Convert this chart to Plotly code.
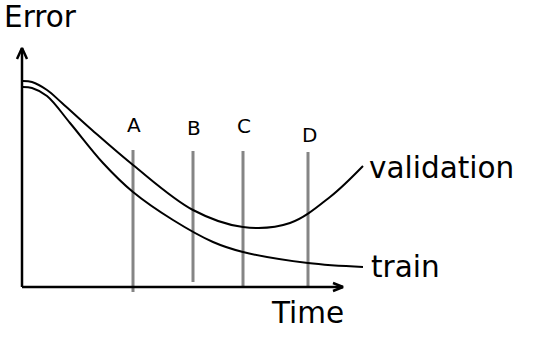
import plotly.graph_objects as go

# Curves (time, error)
val_t = [1, 10, 25, 40, 70, 111, 171, 221, 268, 308, 341]
val_e = [206, 205, 197, 184, 157, 122, 77, 60, 64, 90, 121]
train_t = [1, 10, 25, 48, 81, 111, 151, 191, 221, 286, 341]
train_e = [200, 199, 191, 164, 124, 95, 67, 45, 35, 24, 20]

# Checkpoints
cp_labels = ["A", "B", "C", "D"]
cp_t = [111, 171, 221, 286]
cp_top = [137, 136, 136, 135]
cp_bottom = [-5, 5, -1, -1]
cp_label_base = [155, 152, 154, 145]

FONT = "DejaVu Sans"

fig = go.Figure()

# checkpoint vertical lines
for t, top, bot in zip(cp_t, cp_top, cp_bottom):
    fig.add_trace(go.Scatter(x=[t, t], y=[bot, top], mode="lines",
                             line=dict(color="#858585", width=3), hoverinfo="skip"))

# axes with arrowheads
fig.add_trace(go.Scatter(x=[0, 0, None, -5, 0, 5], y=[0, 239, None, 228, 239, 228],
                         mode="lines", line=dict(color="black", width=2.5), hoverinfo="skip"))
fig.add_trace(go.Scatter(x=[0, 321, None, 311, 321, 311], y=[0, 0, None, 4, 0, -4],
                         mode="lines", line=dict(color="black", width=2.5), hoverinfo="skip"))

# curves
fig.add_trace(go.Scatter(x=val_t, y=val_e, mode="lines", line_shape="spline",
                         line=dict(color="black", width=2), name="validation"))
fig.add_trace(go.Scatter(x=train_t, y=train_e, mode="lines", line_shape="spline",
                         line=dict(color="black", width=2), name="train"))

ann = []
def txt(x, y, s, size, xanchor="center"):
    ann.append(dict(x=x, y=y, text=s, showarrow=False, xanchor=xanchor, yanchor="middle",
                    font=dict(family=FONT, size=size, color="black")))

txt(18, 270, "Error", 29.5)
txt(285.5, -26, "Time", 29.5)
txt(345, 119, "validation", 29.5, "left")
txt(347, 20, "train", 29.5, "left")
for lab, t, b in zip(cp_labels, cp_t, cp_label_base):
    txt(t + 1, b + 7, lab, 20)

fig.update_layout(
    width=558, height=340, margin=dict(l=0, r=0, t=0, b=0),
    paper_bgcolor="white", plot_bgcolor="white", showlegend=False,
    annotations=ann,
    xaxis=dict(range=[-22, 536], visible=False, fixedrange=True),
    yaxis=dict(range=[-53, 287], visible=False, fixedrange=True),
)

fig.write_html("out.html")
